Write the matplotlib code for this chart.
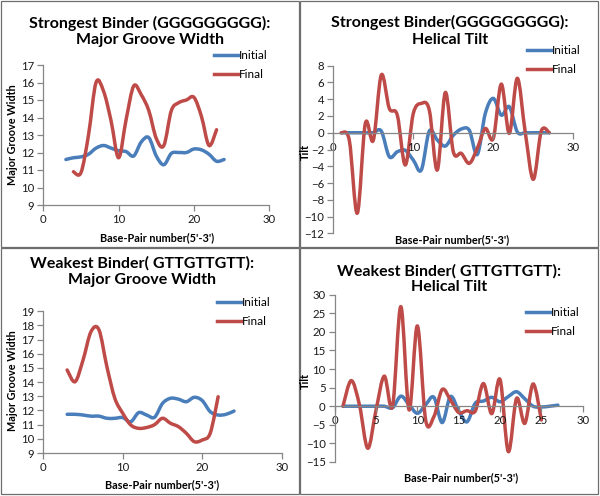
import numpy as np
import matplotlib
matplotlib.use("Agg")
import matplotlib.pyplot as plt
from matplotlib.path import Path
from matplotlib.patches import PathPatch, Rectangle
from matplotlib.lines import Line2D

plt.rcParams["font.family"] = ["Lato", "DejaVu Sans"]

# strongest binder, major groove width
gw_s_init_x = list(range(3, 25))
gw_s_init = [11.6, 11.7, 11.75, 11.9, 12.25, 12.4, 12.25, 12.1, 12.05, 11.8, 12.6,
             12.85, 11.8, 11.3, 11.95, 12.0, 12.0, 12.2, 12.15, 11.9, 11.5, 11.6]
gw_s_fin_x = list(range(4, 24))
gw_s_fin = [10.9, 10.85, 13.0, 16.0, 15.5, 13.8, 11.7, 13.9, 15.8, 15.3, 14.4,
            12.8, 12.4, 14.4, 14.85, 15.0, 15.15, 14.05, 12.4, 13.3]

# strongest binder, helical tilt
ht_s_x = list(range(1, 28))
ht_s_init = [0, 0, 0, 0, 0, 0.2, -2.86, -2.27, -2.1, -3.26, -4.45, 0.2, -0.87, -1.59,
             -0.3, 0.44, 0.3, -2.6, 2.3, 4.1, 2.1, 3.1, 0.1, 0, 0, 0, 0]
ht_s_fin = [0, -0.9, -9.6, 1.1, -0.9, 6.9, 2.9, 2.1, -3.85, 2.3, 3.5, 2.7, -4.45, 4.8,
            -2.26, -2.46, -3.65, -1.86, 0.5, -0.67, 5.8, -0.08, 6.5, 0.0, -5.56, 0.2, 0.0]

# weakest binder, major groove width
gw_w_init_x = list(range(3, 25))
gw_w_init = [11.73, 11.73, 11.68, 11.6, 11.6, 11.45, 11.45, 11.5, 11.2, 11.85, 11.68,
             11.52, 12.5, 12.86, 12.8, 12.62, 12.93, 12.7, 11.92, 11.68, 11.73, 11.96]
gw_w_fin_x = list(range(3, 23))
gw_w_fin = [14.86, 14.03, 15.56, 17.56, 17.7, 15.1, 12.86, 11.8, 10.98, 10.74, 10.8,
            11.0, 11.45, 11.1, 10.86, 10.39, 9.8, 9.92, 10.39, 12.97]

# weakest binder, helical tilt
ht_w_init_x = list(range(1, 28))
ht_w_init = [0, 0, 0, 0, 0, 0, -0.4, 2.7, 0.4, -1.9, 0.4, 2.4, -4.4, 2.6, -1.2, -4.2,
             0.8, 1.4, 2.4, 1.2, 2.6, 3.9, 2.0, 0, -0.2, 0, 0.3]
ht_w_fin_x = list(range(1, 26))
ht_w_fin = [0, 6.9, 0.3, -11.3, -1.0, 8.1, 0.0, 26.8, -1.0, 21.6, -3.7, -2.8, 4.5, 1.7,
            -1.7, -1.2, -1.3, 6.1, -2.0, 7.2, -12.2, 2.1, -4.6, 6.0, -3.7]

BLUE = "#4a7ebb"
RED = "#be4b48"
GRAY = "#868686"
W, H = 600, 496

fig = plt.figure(figsize=(6, 4.96), dpi=100)


def smooth_path(x, y):
    # excel-like smoothed line as bezier segments
    n = len(x)
    verts = [(x[0], y[0])]
    codes = [Path.MOVETO]
    for i in range(n - 1):
        i0 = max(i - 1, 0)
        i3 = min(i + 2, n - 1)
        c1 = (x[i] + (x[i + 1] - x[i0]) / 6, y[i] + (y[i + 1] - y[i0]) / 6)
        c2 = (x[i + 1] - (x[i3] - x[i]) / 6, y[i + 1] - (y[i3] - y[i]) / 6)
        verts += [c1, c2, (x[i + 1], y[i + 1])]
        codes += [Path.CURVE4] * 3
    return Path(verts, codes)


def add_line(ax, x, y, color):
    ax.add_patch(PathPatch(smooth_path(x, y), fill=False, edgecolor=color,
                           lw=2.5, capstyle="round", joinstyle="round"))


def make_axes(l, t, r, b):
    return fig.add_axes([l / W, 1 - b / H, (r - l) / W, (b - t) / H])


def style(ax, ylim, ystep, xstep, zero_axis):
    ax.set_xlim(0, 30)
    ax.set_ylim(*ylim)
    ax.set_xticks(np.arange(0, 31, xstep))
    ax.set_yticks(np.arange(ylim[0], ylim[1] + 0.1, ystep))
    for s in ["top", "right"]:
        ax.spines[s].set_visible(False)
    for s in ["left", "bottom"]:
        ax.spines[s].set_color(GRAY)
        ax.spines[s].set_linewidth(0.9)
    if zero_axis:
        ax.spines["bottom"].set_position(("data", 0))
    ax.tick_params(colors=GRAY, length=4, width=0.9, labelsize=8.2,
                   labelcolor="#1a1a1a", pad=2.5)
    ax.patch.set_alpha(0)


def legend(x, y):
    handles = [Line2D([], [], color=BLUE, lw=2.5), Line2D([], [], color=RED, lw=2.5)]
    fig.legend(handles, ["Initial", "Final"], loc="upper left",
               bbox_to_anchor=(x / W, 1 - y / H), frameon=False, fontsize=8.5,
               handlelength=2.0, handletextpad=0.1, labelspacing=0.65,
               borderpad=0, borderaxespad=0)


def ftext(x, y, s, **kw):
    fig.text(x / W, 1 - y / H, s, **kw)


# panel frames
for (l, t) in [(1, 1), (300, 1), (1, 248), (300, 248)]:
    fig.patches.append(Rectangle((l / W, 1 - (t + 246) / H), 298 / W, 246 / H,
                                 transform=fig.transFigure, fill=False,
                                 edgecolor="#6e6e6e", lw=0.9))

tkw = dict(ha="center", va="center", fontsize=11.5, fontweight="bold", linespacing=1.2)
lkw = dict(ha="center", va="center", fontsize=7.8, fontweight="bold")

# strongest binder: groove width
ax1 = make_axes(43.3, 65, 269.3, 205)
add_line(ax1, gw_s_init_x, gw_s_init, BLUE)
add_line(ax1, gw_s_fin_x, gw_s_fin, RED)
style(ax1, (9, 17), 1, 10, False)
ftext(150, 31.5, "Strongest Binder (GGGGGGGGG):\nMajor Groove Width", **tkw)
ftext(157, 238, "Base-Pair number(5'-3')", **lkw)
ftext(13, 135, "Major Groove Width", rotation=90, **lkw)
legend(214, 50)

# strongest binder: helical tilt
ax2 = make_axes(333.3, 65.7, 573.3, 233.3)
add_line(ax2, ht_s_x, ht_s_init, BLUE)
add_line(ax2, ht_s_x, ht_s_fin, RED)
style(ax2, (-12, 8), 2, 10, True)
ftext(450, 31, "Strongest Binder(GGGGGGGGG):\nHelical Tilt", **tkw)
ftext(452, 240, "Base-Pair number(5'-3')", **lkw)
ftext(305, 152, "Tilt", rotation=90, **lkw)
legend(527, 45)

# weakest binder: groove width
ax3 = make_axes(43.3, 311.3, 281.7, 453)
add_line(ax3, gw_w_init_x, gw_w_init, BLUE)
add_line(ax3, gw_w_fin_x, gw_w_fin, RED)
style(ax3, (9, 19), 1, 10, False)
ftext(142, 271.5, "Weakest Binder( GTTGTTGTT):\nMajor Groove Width", **tkw)
ftext(162, 485, "Base-Pair number(5'-3')", **lkw)
ftext(13, 381, "Major Groove Width", rotation=90, **lkw)
legend(217, 297)

# weakest binder: helical tilt
ax4 = make_axes(334.7, 294.7, 582.7, 462)
add_line(ax4, ht_w_init_x, ht_w_init, BLUE)
add_line(ax4, ht_w_fin_x, ht_w_fin, RED)
style(ax4, (-15, 30), 5, 5, True)
ftext(449, 279, "Weakest Binder( GTTGTTGTT):\nHelical Tilt", **tkw)
ftext(461, 478, "Base-Pair number(5'-3')", **lkw)
ftext(305, 381, "Tilt", rotation=90, **lkw)
legend(526, 307)

fig.savefig("out.png", dpi=100)
